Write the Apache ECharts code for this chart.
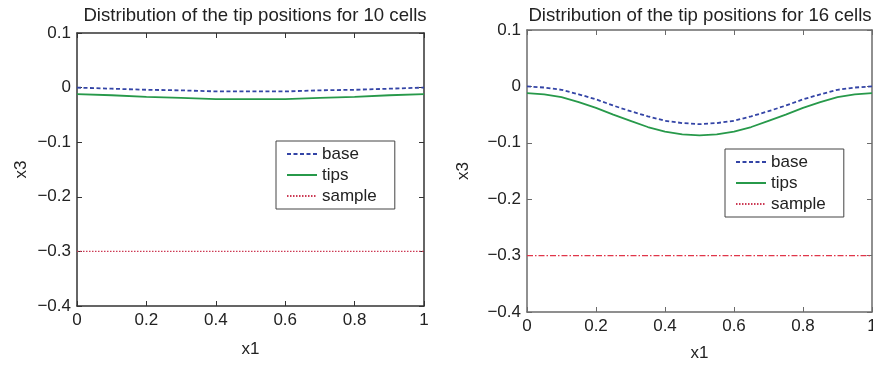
<!DOCTYPE html>
<html>
<head>
<meta charset="utf-8">
<script src="https://cdn.jsdelivr.net/npm/echarts@6/dist/echarts.min.js"></script>
<style>
  html, body { margin: 0; padding: 0; background: #fff; }
  #chart { width: 873px; height: 366px; }
</style>
</head>
<body>
<div id="chart"></div>
<script>
// left panel: 10 cells
const x10 = [0, 0.1, 0.2, 0.3, 0.4, 0.5, 0.6, 0.7, 0.8, 0.9, 1];
const base10 = [0, -0.002, -0.004, -0.005, -0.007, -0.007, -0.007, -0.005, -0.004, -0.002, 0];
const tips10 = [-0.012, -0.014, -0.017, -0.019, -0.021, -0.021, -0.021, -0.019, -0.017, -0.014, -0.012];

// right panel: 16 cells
const x16 = [0, 0.05, 0.1, 0.15, 0.2, 0.25, 0.3, 0.35, 0.4, 0.45, 0.5,
  0.55, 0.6, 0.65, 0.7, 0.75, 0.8, 0.85, 0.9, 0.95, 1];
const base16 = [0, -0.002, -0.006, -0.014, -0.023, -0.034, -0.044, -0.053, -0.061, -0.065, -0.067,
  -0.065, -0.061, -0.053, -0.044, -0.034, -0.023, -0.014, -0.006, -0.002, 0];
const tips16 = [-0.012, -0.014, -0.019, -0.028, -0.038, -0.050, -0.061, -0.072, -0.080, -0.085, -0.087,
  -0.085, -0.080, -0.072, -0.061, -0.050, -0.038, -0.028, -0.019, -0.014, -0.012];

// sample line, both panels
const sampleX = [0, 1];
const sampleY = [-0.3, -0.3];

const titles = [
  "Distribution of the tip positions for 10 cells",
  "Distribution of the tip positions for 16 cells",
];
const seriesNames = ["base", "tips", "sample"];

const FONT = "'Liberation Sans', Arial, sans-serif";
const fmt = (v) => (v === 0 ? "0" : String(+v.toFixed(1)).replace("-", "\u2212"));
const pairs = (xs, ys) => xs.map((x, i) => [x, ys[i]]);

const panels = [
  { left: 77, top: 33, width: 347, height: 273, axis: "#333", titleX: 250, xGap: 35, yGap: 47, legend: [276, 141], sampleDash: [1.5, 1.5], sampleColor: "#cc3a55" },
  { left: 527, top: 30, width: 345, height: 282, axis: "#6b6b6b", titleX: 695, xGap: 33, yGap: 55, legend: [725, 149], sampleDash: [6, 2, 1.5, 2], sampleColor: "#e0364a" },
];

const xAxis = [];
const yAxis = [];
panels.forEach((p, i) => {
  const line = { show: true, onZero: false, lineStyle: { color: p.axis, width: 1.5 } };
  const tick = { show: true, inside: true, length: 5, lineStyle: { color: p.axis } };
  xAxis.push({
    gridIndex: i, type: "value", min: 0, max: 1, interval: 0.2, position: "bottom",
    axisLine: line, axisTick: tick, splitLine: { show: false },
    axisLabel: { fontSize: 17, color: "#222", margin: 6, formatter: fmt, showMinLabel: true, showMaxLabel: true },
    name: "x1", nameLocation: "middle", nameGap: p.xGap,
    nameTextStyle: { fontSize: 17, color: "#222" },
  });
  xAxis.push({
    gridIndex: i, type: "value", min: 0, max: 1, interval: 0.2, position: "top",
    axisLine: line, axisTick: tick, splitLine: { show: false }, axisLabel: { show: false },
  });
  yAxis.push({
    gridIndex: i, type: "value", min: -0.4, max: 0.1, interval: 0.1, position: "left",
    axisLine: line, axisTick: tick, splitLine: { show: false },
    axisLabel: { fontSize: 17, color: "#222", margin: 6, formatter: fmt, showMinLabel: true, showMaxLabel: true },
    name: "x3", nameLocation: "middle", nameGap: p.yGap, nameRotate: 90,
    nameTextStyle: { fontSize: 17, color: "#222" },
  });
  yAxis.push({
    gridIndex: i, type: "value", min: -0.4, max: 0.1, interval: 0.1, position: "right",
    axisLine: line, axisTick: tick, splitLine: { show: false }, axisLabel: { show: false },
  });
});

const series = [];
[[x10, base10, tips10], [x16, base16, tips16]].forEach(([xs, b, t], i) => {
  const p = panels[i];
  const common = { type: "line", xAxisIndex: i * 2, yAxisIndex: i * 2, symbol: "none", silent: true };
  series.push({ ...common, name: "base", data: pairs(xs, b),
    lineStyle: { color: "#3344a6", width: 1.8, type: [4, 2.5] }, itemStyle: { color: "#3344a6" } });
  series.push({ ...common, name: "tips", data: pairs(xs, t),
    lineStyle: { color: "#27994a", width: 1.8 }, itemStyle: { color: "#27994a" } });
  series.push({ ...common, name: "sample", data: pairs(sampleX, sampleY),
    lineStyle: { color: p.sampleColor, width: 1.4, type: p.sampleDash }, itemStyle: { color: p.sampleColor } });
});

const chart = echarts.init(document.getElementById("chart"));
chart.setOption({
  animation: false,
  backgroundColor: "#fff",
  textStyle: { fontFamily: FONT },
  title: panels.map((p, i) => ({
    text: titles[i], left: p.titleX, top: 1, textAlign: "center",
    textStyle: { fontSize: 18.6, fontWeight: "normal", color: "#222", fontFamily: FONT },
  })),
  grid: panels.map((p) => ({
    left: p.left, top: p.top, width: p.width, height: p.height, outerBoundsMode: "none",
  })),
  legend: panels.map((p) => ({
    data: seriesNames, orient: "vertical", left: p.legend[0], top: p.legend[1],
    itemWidth: 30, itemHeight: 14, itemGap: 3, padding: [4, 18, 4, 10],
    borderColor: "#444", borderWidth: 1, backgroundColor: "#fff",
    selectedMode: false,
    itemStyle: { color: "transparent", borderWidth: 0 },
    textStyle: { fontSize: 17, color: "#222", lineHeight: 18 },
  })),
  xAxis, yAxis, series,
});
</script>
</body>
</html>
